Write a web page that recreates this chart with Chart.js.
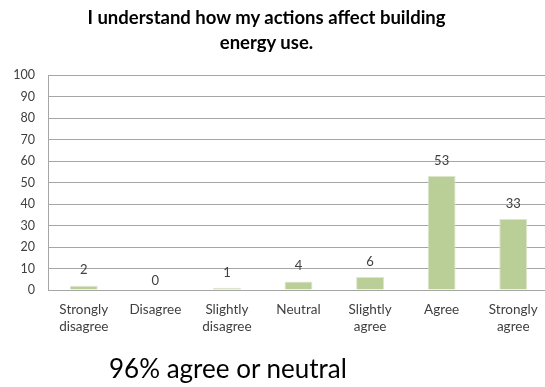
<!DOCTYPE html>
<html>
<head>
<meta charset="utf-8">
<script src="https://cdn.jsdelivr.net/npm/chart.js@4"></script>
<style>
  html, body { margin: 0; padding: 0; background: #fff; overflow: hidden; }
  #wrap { position: relative; width: 545px; height: 387px; overflow: hidden; }
  #title {
    position: absolute; left: 0; top: 5px; width: 533px;
    text-align: center; font: bold 18.5px Lato, sans-serif; line-height: 25px; color: #000;
  }
  #note {
    position: absolute; left: 109px; top: 353px;
    font: 26px Lato, sans-serif; line-height: 30px; color: #000;
  }
  #box { position: absolute; left: 0; top: 0; width: 560px; height: 387px; }
</style>
</head>
<body>
<div id="wrap">
  <div id="box"><canvas id="chart"></canvas></div>
  <div id="title">I understand how my actions affect building<br>energy use.</div>
  <div id="note">96% agree or neutral</div>
</div>
<script>
const categories = [
  ["Strongly", "disagree"],
  "Disagree",
  ["Slightly", "disagree"],
  "Neutral",
  ["Slightly", "agree"],
  "Agree",
  ["Strongly", "agree"],
];
const responses = [2, 0, 1, 4, 6, 53, 33];
const yTicks = [0, 10, 20, 30, 40, 50, 60, 70, 80, 90, 100];

const barColor = "#bacf97";
const gridColor = "#a6a6a6";
const textColor = "#404040";

// value labels sitting above each bar
const valueLabels = {
  id: "valueLabels",
  afterDatasetsDraw(chart) {
    const ctx = chart.ctx;
    const meta = chart.getDatasetMeta(0);
    ctx.save();
    ctx.font = "13px Lato, sans-serif";
    ctx.fillStyle = textColor;
    ctx.textAlign = "center";
    ctx.textBaseline = "bottom";
    meta.data.forEach((bar, i) => {
      const gap = responses[i] === 0 ? 3 : 9;
      ctx.fillText(String(responses[i]), bar.x, bar.y - gap);
    });
    ctx.restore();
  },
};

new Chart(document.getElementById("chart"), {
  type: "bar",
  data: {
    labels: categories,
    datasets: [
      {
        data: responses,
        backgroundColor: barColor,
        borderColor: "#dde5cf",
        borderWidth: 1,
        categoryPercentage: 1,
        barPercentage: 0.39,
      },
    ],
  },
  options: {
    responsive: true,
    maintainAspectRatio: false,
    animation: false,
    layout: { padding: { top: 75, right: 11, bottom: 52, left: 0 } },
    plugins: {
      legend: { display: false },
      tooltip: { enabled: false },
    },
    scales: {
      x: {
        grid: { display: false, drawTicks: false },
        border: { color: gridColor, width: 1 },
        ticks: {
          color: textColor,
          font: { family: "Lato", size: 13.5, lineHeight: 1.2 },
          padding: 12,
          maxRotation: 0,
          autoSkip: false,
        },
        afterFit(scale) { scale.height = 45; },
      },
      y: {
        min: 0,
        max: 100,
        afterBuildTicks(scale) { scale.ticks = yTicks.map((v) => ({ value: v })); },
        grid: { color: gridColor, drawTicks: false },
        border: { color: gridColor, width: 1 },
        ticks: {
          color: textColor,
          font: { family: "Lato", size: 12.5 },
          padding: 13,
        },
        afterFit(scale) { scale.width = 48; },
      },
    },
  },
  plugins: [valueLabels],
});
</script>
</body>
</html>
